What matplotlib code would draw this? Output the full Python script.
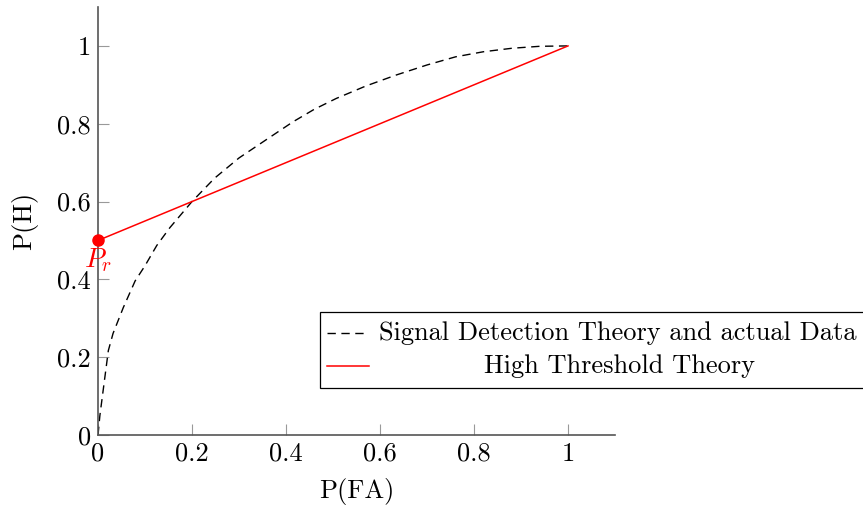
import matplotlib.pyplot as plt
from matplotlib.patches import Rectangle
from matplotlib.lines import Line2D

plt.rcParams['font.family'] = ['cmr10', 'DejaVu Serif']
plt.rcParams['mathtext.fontset'] = 'cm'
plt.rcParams['axes.formatter.use_mathtext'] = True

# dashed ROC curve (signal detection theory / data)
sdt_fa = [0, 0.004, 0.011, 0.022, 0.032, 0.054, 0.079, 0.1, 0.125, 0.153, 0.2,
          0.248, 0.3, 0.358, 0.415, 0.46, 0.507, 0.57, 0.634, 0.7, 0.761,
          0.82, 0.881, 0.94, 1.0]
sdt_hit = [0, 0.05, 0.115, 0.217, 0.261, 0.328, 0.396, 0.435, 0.487, 0.533, 0.6,
           0.66, 0.712, 0.759, 0.805, 0.837, 0.865, 0.897, 0.925, 0.951, 0.972,
           0.985, 0.994, 0.999, 1.0]

# high threshold theory: straight line from P_r to (1, 1)
htt_fa = [0, 1]
htt_hit = [0.5, 1]
p_r = 0.5

ticks = [0, 0.2, 0.4, 0.6, 0.8, 1]
tick_labels = ['0', '0.2', '0.4', '0.6', '0.8', '1']

fig = plt.figure(figsize=(8.63, 5.08), dpi=100)
W, H = 863, 508
ax = fig.add_axes([98 / W, 1 - 435 / H, (615 - 98) / W, (435 - 7) / H])

ax.plot(sdt_fa, sdt_hit, color='black', lw=1.0, linestyle=(0, (6, 4)))
ax.plot(htt_fa, htt_hit, color='red', lw=1.1)
ax.plot([0], [p_r], 'o', color='red', markersize=8, clip_on=False, zorder=5)
ax.annotate('$P_r$', xy=(0, p_r), xytext=(0, -4), textcoords='offset points',
            ha='center', va='top', color='red', fontsize=20)

ax.set_xlim(0, 1.1)
ax.set_ylim(0, 1.1)
ax.set_xticks(ticks)
ax.set_xticklabels(tick_labels)
ax.set_yticks(ticks)
ax.set_yticklabels(tick_labels)
ax.tick_params(direction='in', length=8, width=0.8, color='#999999',
               labelsize=19, pad=5)
for s in ['top', 'right']:
    ax.spines[s].set_visible(False)
for s in ['left', 'bottom']:
    ax.spines[s].set_color('#555555')
    ax.spines[s].set_linewidth(1.2)

ax.set_xlabel('P(FA)', fontsize=19, labelpad=9)
ax.set_ylabel('P(H)', fontsize=19, labelpad=14)

# legend drawn like pgfplots: centered text cells, box running off the right edge
box = Rectangle((320 / W, 1 - 388 / H), (870 - 320) / W, 76 / H,
                transform=fig.transFigure, facecolor='white',
                edgecolor='black', lw=0.9, zorder=10)
fig.add_artist(box)
fig.add_artist(Line2D([327 / W, 364 / W], [1 - 333 / H] * 2, color='black',
                      lw=1.0, linestyle=(0, (6, 4)), transform=fig.transFigure,
                      zorder=11))
fig.add_artist(Line2D([327 / W, 369 / W], [1 - 366 / H] * 2, color='red',
                      lw=1.1, transform=fig.transFigure, zorder=11))
fig.text(618 / W, 1 - 333 / H, 'Signal Detection Theory and actual Data',
         ha='center', va='center', fontsize=19, zorder=11)
fig.text(620 / W, 1 - 366 / H, 'High Threshold Theory',
         ha='center', va='center', fontsize=19, zorder=11)

fig.savefig('out.png', dpi=100)
